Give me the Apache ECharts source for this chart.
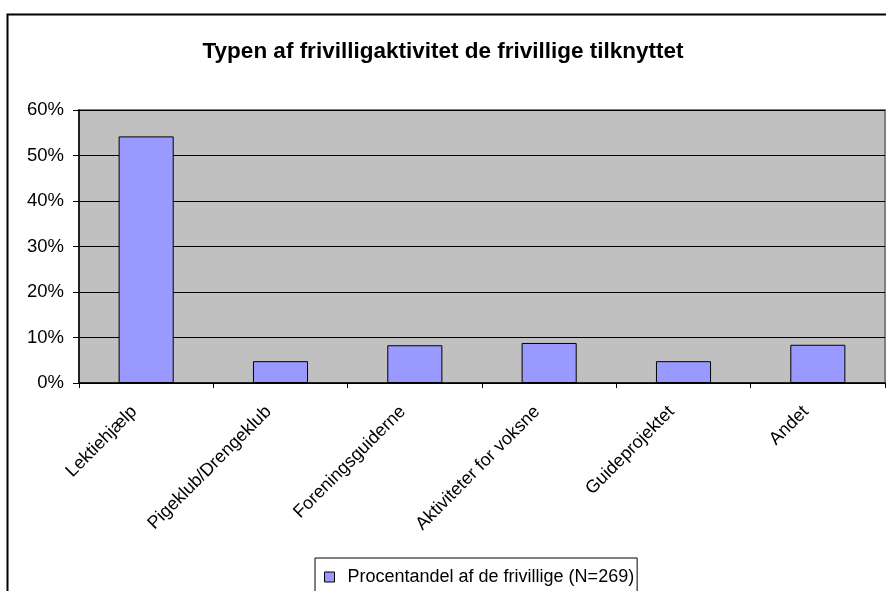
<!DOCTYPE html>
<html>
<head>
<meta charset="utf-8">
<script src="https://cdn.jsdelivr.net/npm/echarts@6/dist/echarts.min.js"></script>
<style>html,body{margin:0;padding:0;background:#fff;}#c{width:886px;height:591px;}</style>
</head>
<body>
<div id="c"></div>
<script>
var categories = ['Lektiehjælp', 'Pigeklub/Drengeklub', 'Foreningsguiderne', 'Aktiviteter for voksne', 'Guideprojektet', 'Andet'];
var values = [0.542, 0.048, 0.083, 0.088, 0.048, 0.084];
var seriesName = 'Procentandel af de frivillige (N=269)';
var chartTitle = 'Typen af frivilligaktivitet de frivillige tilknyttet';

var chart = echarts.init(document.getElementById('c'), null, {renderer: 'canvas'});
var font = 'Liberation Sans, Arial, sans-serif';
chart.setOption({
  animation: false,
  backgroundColor: '#ffffff',
  graphic: [{
    type: 'rect', left: 5, top: 12, z: -1,
    shape: {width: 900, height: 600},
    style: {fill: 'none', stroke: '#000', lineWidth: 2}
  }],
  title: {
    text: chartTitle, left: 'center', top: 35,
    textStyle: {fontFamily: font, fontSize: 22.5, fontWeight: 'bold', color: '#000'}
  },
  legend: {
    data: [seriesName], left: 315, top: 558,
    borderColor: '#000', borderWidth: 1, padding: [10, 3, 12, 9],
    icon: 'rect', itemWidth: 10, itemHeight: 10, itemGap: 5,
    itemStyle: {borderColor: '#000', borderWidth: 1},
    textStyle: {fontFamily: font, fontSize: 18, color: '#000', padding: [0, 0, 0, 8]}
  },
  grid: {
    left: 79, right: 1, top: 110, bottom: 208,
    show: true, backgroundColor: '#C0C0C0', borderColor: '#808080', borderWidth: 2
  },
  xAxis: {
    type: 'category', data: categories,
    axisLine: {lineStyle: {color: '#000', width: 1.5}},
    axisTick: {show: true, length: 5, lineStyle: {color: '#000'}},
    axisLabel: {rotate: 45, fontFamily: font, fontSize: 18, color: '#000', margin: 14, interval: 0, padding: [0, 17, 0, 0]}
  },
  yAxis: {
    type: 'value', min: 0, max: 0.6, interval: 0.1,
    axisLine: {show: true, lineStyle: {color: '#000', width: 1.5}},
    axisTick: {show: true, length: 6, lineStyle: {color: '#000'}},
    splitLine: {lineStyle: {color: '#000', width: 1}},
    axisLabel: {
      fontFamily: font, fontSize: 18.5, color: '#000', margin: 15, padding: [4, 0, 0, 0],
      formatter: function (v) { return Math.round(v * 100) + '%'; }
    }
  },
  series: [{
    name: seriesName, type: 'bar', data: values, barWidth: '41%',
    itemStyle: {color: '#9999FF', borderColor: '#000', borderWidth: 1}
  }]
});
</script>
</body>
</html>
